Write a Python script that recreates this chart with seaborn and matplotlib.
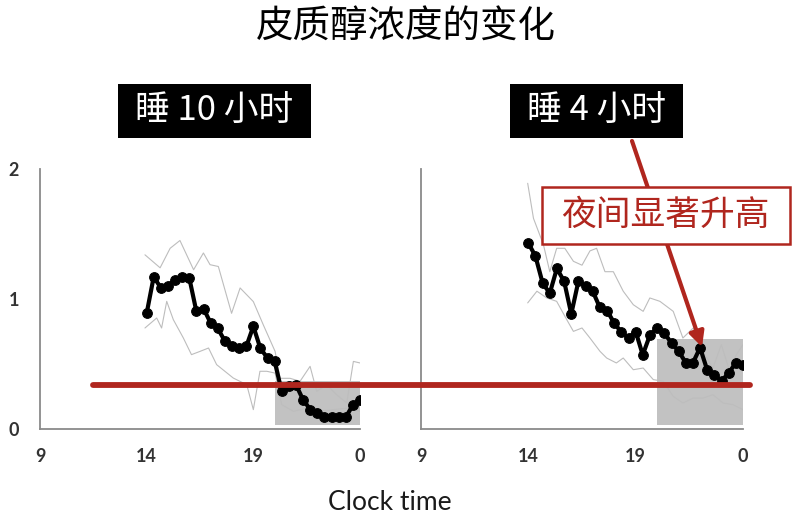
import seaborn as sns
import matplotlib.pyplot as plt
from matplotlib.patches import Rectangle, FancyArrowPatch
from matplotlib.lines import Line2D

# Data (hours, 24 = midnight)
hours = [14.0, 14.33, 14.67, 15.0, 15.33, 15.67, 16.0, 16.33, 16.67, 17.0,
         17.33, 17.67, 18.0, 18.33, 18.67, 19.0, 19.33, 19.67, 20.0, 20.33,
         20.67, 21.0, 21.33, 21.67, 22.0, 22.33, 22.67, 23.0, 23.33, 23.67, 24.0]

sleep10_mean = [0.89, 1.17, 1.085, 1.10, 1.15, 1.17, 1.16, 0.905, 0.925, 0.815,
                0.775, 0.675, 0.635, 0.62, 0.635, 0.79, 0.62, 0.545, 0.52, 0.29,
                0.33, 0.34, 0.225, 0.15, 0.125, 0.095, 0.09, 0.09, 0.09, 0.185, 0.225]

sleep4_mean = [1.43, 1.33, 1.12, 1.045, 1.235, 1.135, 0.885, 1.135, 1.10, 1.06,
               0.935, 0.91, 0.815, 0.745, 0.70, 0.75, 0.57, 0.725, 0.775, 0.74,
               0.66, 0.60, 0.51, 0.51, 0.625, 0.455, 0.415, 0.37, 0.43, 0.51, 0.495]

sleep10_hi_x = [13.92, 14.63, 15.1, 15.56, 16.2, 16.66, 16.97, 17.36, 17.98, 18.38,
                19.0, 19.47, 20.02, 20.25, 20.72, 21.19, 21.66, 21.97, 22.44, 22.9,
                23.38, 23.69, 24.0]
sleep10_hi_y = [1.34, 1.24, 1.39, 1.45, 1.225, 1.354, 1.264, 1.25, 0.89, 1.085,
                0.98, 0.80, 0.597, 0.39, 0.39, 0.367, 0.482, 0.29, 0.34, 0.264,
                0.20, 0.52, 0.508]
sleep10_lo_x = [13.92, 14.47, 14.7, 14.94, 15.25, 15.72, 16.1, 16.5, 16.9, 17.28,
                18.06, 18.69, 19.0, 19.31, 19.63, 20.02, 20.33, 20.88, 21.5, 22.1,
                22.75, 23.38, 24.0]
sleep10_lo_y = [0.777, 0.854, 0.777, 0.982, 0.841, 0.70, 0.572, 0.597, 0.623, 0.495,
                0.392, 0.341, 0.149, 0.444, 0.444, 0.43, 0.187, 0.136, 0.16, 0.136,
                0.149, 0.16, 0.136]

sleep4_hi_x = [13.97, 14.24, 14.7, 15.0, 15.32, 15.7, 16.1, 16.5, 16.87, 17.18,
               17.57, 17.96, 18.42, 18.89, 19.35, 19.66, 20.13, 20.75, 21.2, 21.68,
               22.14, 22.6, 22.99, 23.38, 23.69, 24.0]
sleep4_hi_y = [1.89, 1.62, 1.42, 1.21, 1.39, 1.39, 1.29, 1.26, 1.37, 1.39,
               1.21, 1.21, 1.06, 0.956, 0.905, 1.008, 0.982, 0.905, 0.70, 0.777,
               0.597, 0.469, 0.649, 0.444, 0.572, 0.649]
sleep4_lo_x = [13.97, 14.4, 14.86, 15.32, 15.79, 16.1, 16.5, 16.87, 17.34, 17.65,
               18.1, 18.42, 18.89, 19.35, 19.82, 20.28, 20.75, 21.2, 21.68, 22.14,
               22.6, 23.07, 23.53, 24.0]
sleep4_lo_y = [0.97, 1.06, 1.008, 0.982, 0.841, 0.751, 0.777, 0.70, 0.597, 0.546,
               0.508, 0.546, 0.456, 0.469, 0.38, 0.367, 0.251, 0.20, 0.238, 0.238,
               0.264, 0.20, 0.187, 0.149]

# night (sleep) shading: start/end hour, bottom/top value
night_x = [20.0, 24.0]
night_bottom = 0.03
night_top_10 = 0.37
night_top_4 = 0.69

tick_pos = [9, 14, 19, 24]
tick_labels = ['9', '14', '19', '0']

RED = '#B0261E'
W, H = 798, 518


def fx(px):
    return px / W


def fy(py):
    return 1 - py / H


sns.set_style('white')
plt.rcParams['font.family'] = ['Noto Sans CJK SC', 'DejaVu Sans']

fig = plt.figure(figsize=(7.98, 5.18), dpi=100)
ax1 = fig.add_axes([fx(40), fy(429), 320 / W, 260 / H])
ax2 = fig.add_axes([fx(421), fy(429), 322 / W, 260 / H])

panels = [
    (ax1, sleep10_mean, sleep10_hi_x, sleep10_hi_y, sleep10_lo_x, sleep10_lo_y, night_top_10),
    (ax2, sleep4_mean, sleep4_hi_x, sleep4_hi_y, sleep4_lo_x, sleep4_lo_y, night_top_4),
]

for ax, mean, hx, hy, lx, ly, top in panels:
    ax.fill_between(night_x, night_bottom, top, color='#c2c2c2', lw=0, zorder=1)
    sns.lineplot(x=hx, y=hy, ax=ax, color='#bdbdbd', lw=0.8, zorder=2)
    sns.lineplot(x=lx, y=ly, ax=ax, color='#bdbdbd', lw=0.8, zorder=2)
    sns.lineplot(x=hours, y=mean, ax=ax, color='black', lw=3, marker='o',
                 markersize=7, markeredgecolor='black', zorder=3)
    ax.set_xlim(9, 24)
    ax.set_ylim(0, 2)
    ax.set_xticks(tick_pos)
    ax.set_xticklabels(tick_labels, family='Lato', fontweight='bold',
                       fontsize=13, color='#333333')
    ax.set_yticks([0, 1, 2])
    for side in ['top', 'right']:
        ax.spines[side].set_visible(False)
    for side in ['left', 'bottom']:
        ax.spines[side].set_color('#8a8a8a')
        ax.spines[side].set_linewidth(1.3)
    ax.tick_params(axis='x', direction='inout', length=8, width=1.1,
                   color='#8a8a8a', pad=10)
    ax.tick_params(axis='y', direction='out', length=6, width=1.1,
                   color='#8a8a8a', pad=9)
    ax.set_facecolor('none')

ax1.set_yticklabels(['0', '1', '2'], family='Lato', fontweight='bold',
                    fontsize=13, color='#333333')
ax2.set_yticklabels([])

# title and shared x label
fig.text(fx(406), fy(27), '皮质醇浓度的变化', ha='center', va='center',
         fontsize=27, fontweight='medium', color='black')
fig.text(fx(390), fy(502), 'Clock time', ha='center', va='center',
         family='Lato', fontsize=19, color='#1a1a1a')

# black label boxes
for x0, x1, label in [(118, 311, '睡 10 小时'), (510, 683, '睡 4 小时')]:
    fig.add_artist(Rectangle((fx(x0), fy(138)), (x1 - x0) / W, 54 / H,
                             transform=fig.transFigure, facecolor='black',
                             edgecolor='none', zorder=5))
    fig.text(fx((x0 + x1) / 2), fy(111), label, ha='center', va='center',
             fontsize=25, color='white', zorder=6)

# red reference line across both panels
fig.add_artist(Line2D([fx(93), fx(750)], [fy(385), fy(385)],
                      transform=fig.transFigure, color=RED, lw=4.2, zorder=7))

# arrow from label to the night rise
fig.add_artist(FancyArrowPatch((fx(632), fy(141)), (fx(702), fy(347)),
                               transform=fig.transFigure, arrowstyle='-|>',
                               mutation_scale=22, color=RED, lw=3,
                               shrinkA=0, shrinkB=0, zorder=7))

# red callout box
fig.add_artist(Rectangle((fx(542), fy(244)), 248 / W, 57 / H,
                         transform=fig.transFigure, facecolor='white',
                         edgecolor=RED, lw=1.8, zorder=8))
fig.text(fx(665), fy(215), '夜间显著升高', ha='center', va='center',
         fontsize=25, color=RED, zorder=9)

fig.savefig('out.png', dpi=100)
